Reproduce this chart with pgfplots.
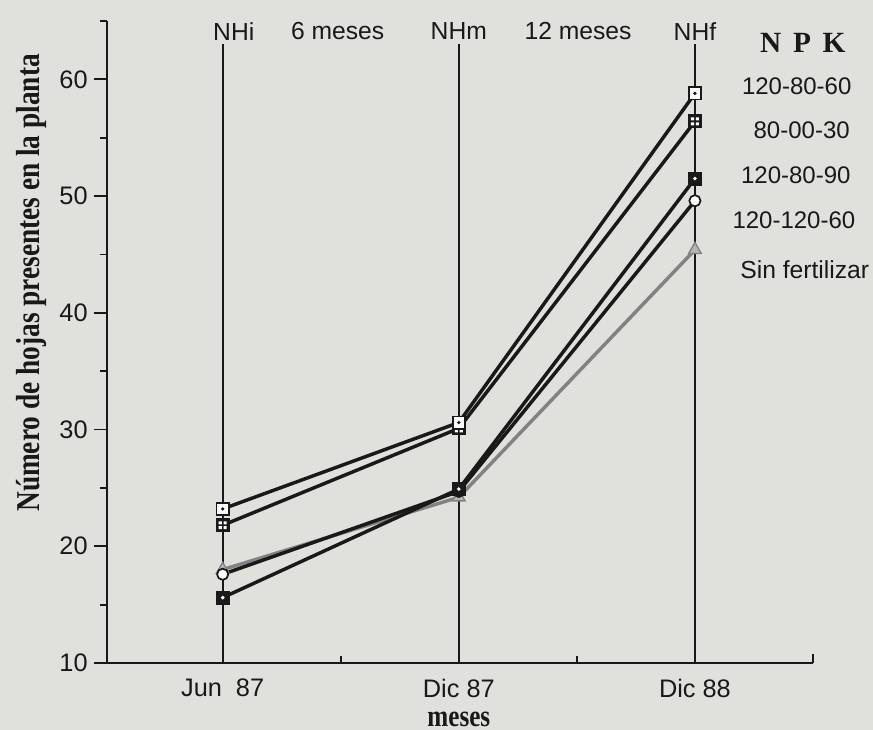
\documentclass[border=0pt]{standalone}
\usepackage{pgfplots}
\pgfplotsset{compat=1.18}
\usepackage{fontspec}
\setmainfont{Liberation Sans}
\newfontfamily\seriffont{Liberation Serif}
\newfontfamily\condserif[FakeStretch=0.82]{Liberation Serif}
\definecolor{paper}{RGB}{224,224,221}
\definecolor{ink}{RGB}{25,25,25}
\definecolor{graysf}{RGB}{130,130,130}

\pgfdeclareplotmark{sqdot}{%
  \pgfpathrectangle{\pgfpoint{-\pgfplotmarksize}{-\pgfplotmarksize}}{\pgfpoint{2\pgfplotmarksize}{2\pgfplotmarksize}}%
  \pgfsetfillcolor{white}\pgfusepath{stroke,fill}%
  \pgfpathcircle{\pgfpointorigin}{0.3\pgfplotmarksize}%
  \pgfsetfillcolor{ink}\pgfusepath{fill}}
\pgfdeclareplotmark{sqgrid}{%
  \pgfpathrectangle{\pgfpoint{-\pgfplotmarksize}{-\pgfplotmarksize}}{\pgfpoint{2\pgfplotmarksize}{2\pgfplotmarksize}}%
  \pgfsetfillcolor{ink}\pgfusepath{stroke,fill}%
  \pgfsetfillcolor{white}%
  \pgfpathrectangle{\pgfpoint{-0.65\pgfplotmarksize}{0.15\pgfplotmarksize}}{\pgfpoint{0.5\pgfplotmarksize}{0.5\pgfplotmarksize}}%
  \pgfpathrectangle{\pgfpoint{0.15\pgfplotmarksize}{0.15\pgfplotmarksize}}{\pgfpoint{0.5\pgfplotmarksize}{0.5\pgfplotmarksize}}%
  \pgfpathrectangle{\pgfpoint{-0.65\pgfplotmarksize}{-0.65\pgfplotmarksize}}{\pgfpoint{0.5\pgfplotmarksize}{0.5\pgfplotmarksize}}%
  \pgfpathrectangle{\pgfpoint{0.15\pgfplotmarksize}{-0.65\pgfplotmarksize}}{\pgfpoint{0.5\pgfplotmarksize}{0.5\pgfplotmarksize}}%
  \pgfusepath{fill}}
\pgfdeclareplotmark{sqfdot}{%
  \pgfpathrectangle{\pgfpoint{-\pgfplotmarksize}{-\pgfplotmarksize}}{\pgfpoint{2\pgfplotmarksize}{2\pgfplotmarksize}}%
  \pgfsetfillcolor{ink}\pgfusepath{stroke,fill}%
  \pgfpathcircle{\pgfpointorigin}{0.32\pgfplotmarksize}%
  \pgfsetfillcolor{white}\pgfusepath{fill}}

\begin{document}
\begin{tikzpicture}
\fill[paper] (-80.25pt,-50.25pt) rectangle (574.5pt,497.25pt);
\useasboundingbox (-80.25pt,-50.25pt) rectangle (574.5pt,497.25pt);
\begin{axis}[
  at={(0,0)}, anchor=south west,
  scale only axis, width=529.5pt, height=481.5pt,
  xmin=0.51, xmax=3.5, ymin=10, ymax=65,
  axis x line=bottom, axis y line=left,
  axis line style={-, line width=1.7pt, ink},
  xtick={1,2,3},
  xticklabels={Jun\hspace{0.55em}87, Dic 87, Dic 88},
  xtick style={draw=none},
  xticklabel style={inner sep=1pt, yshift=-1pt, font=\fontsize{19}{21}\selectfont, text=ink},
  ytick={10,20,...,60},
  minor ytick={15,25,...,65},
  tick align=outside,
  major tick length=10pt, minor tick length=5.5pt,
  ytick style={line width=1.4pt, ink},
  minor y tick style={line width=1.4pt, ink},
  yticklabel style={font=\fontsize{19}{21}\selectfont, text=ink, xshift=-1pt},
  /pgf/number format/assume math mode=true,
  clip=false,
]
% vertical guide lines
\draw[line width=1.2pt, ink] (axis cs:1,10) -- (axis cs:1,63);
\draw[line width=1.2pt, ink] (axis cs:2,10) -- (axis cs:2,63);
\draw[line width=1.2pt, ink] (axis cs:3,10) -- (axis cs:3,63);
% small x ticks
\draw[line width=1.4pt, ink] (axis cs:1.5,10) -- (axis cs:1.5,10.6);
\draw[line width=1.4pt, ink] (axis cs:2.5,10) -- (axis cs:2.5,10.6);
\draw[line width=1.4pt, ink] (axis cs:3.5,10) -- (axis cs:3.5,10.8);

% Sin fertilizar
\addplot[line width=2.6pt, graysf, mark=triangle*, mark size=5.5pt,
  mark options={solid, line width=1pt, draw=graysf, fill=graysf!60}]
  coordinates {(1,18.0) (2,24.2) (3,45.4)};
% 120-120-60
\addplot[line width=2.6pt, ink, mark=*, mark size=4.2pt,
  mark options={solid, line width=1.3pt, fill=white}]
  coordinates {(1,17.6) (2,24.7) (3,49.6)};
% 120-80-90
\addplot[line width=2.6pt, ink, mark=sqfdot, mark size=4.6pt,
  mark options={solid, line width=1.3pt}]
  coordinates {(1,15.6) (2,24.9) (3,51.5)};
% 80-00-30
\addplot[line width=2.6pt, ink, mark=sqgrid, mark size=4.6pt,
  mark options={solid, line width=1.3pt}]
  coordinates {(1,21.8) (2,30.1) (3,56.4)};
% 120-80-60
\addplot[line width=2.6pt, ink, mark=sqdot, mark size=4.6pt,
  mark options={solid, line width=1.3pt}]
  coordinates {(1,23.2) (2,30.6) (3,58.8)};

% top labels
\node[font=\fontsize{18.5}{20}\selectfont, text=ink] at (axis cs:1.047,64.1) {NHi};
\node[font=\fontsize{18.5}{20}\selectfont, text=ink] at (axis cs:1.487,64.1) {6 meses};
\node[font=\fontsize{18.5}{20}\selectfont, text=ink] at (axis cs:2.0,64.1) {NHm};
\node[font=\fontsize{18.5}{20}\selectfont, text=ink] at (axis cs:2.505,64.1) {12 meses};
\node[font=\fontsize{18.5}{20}\selectfont, text=ink] at (axis cs:3.0,64.1) {NHf};

% legend text
\node[font=\seriffont\bfseries\fontsize{22}{24}\selectfont, text=ink] at (axis cs:3.457,63.1) {N\hspace{0.4em}P\hspace{0.4em}K};
\node[font=\fontsize{18}{20}\selectfont, text=ink] at (axis cs:3.431,59.4) {120-80-60};
\node[font=\fontsize{18}{20}\selectfont, text=ink] at (axis cs:3.452,55.6) {80-00-30};
\node[font=\fontsize{18}{20}\selectfont, text=ink] at (axis cs:3.427,51.8) {120-80-90};
\node[font=\fontsize{18}{20}\selectfont, text=ink] at (axis cs:3.419,47.96) {120-120-60};
\node[font=\fontsize{18.5}{20}\selectfont, text=ink] at (axis cs:3.465,43.7) {Sin fertilizar};

% axis titles
\node[font=\condserif\bfseries\fontsize{25}{27}\selectfont, text=ink, rotate=90] at (axis cs:0.19,42.56) {Número de hojas presentes en la planta};
\node[font=\condserif\bfseries\fontsize{23}{25}\selectfont, text=ink, anchor=base, inner sep=0pt] at (axis cs:2.0,4.6) {meses};
\end{axis}
\end{tikzpicture}
\end{document}
